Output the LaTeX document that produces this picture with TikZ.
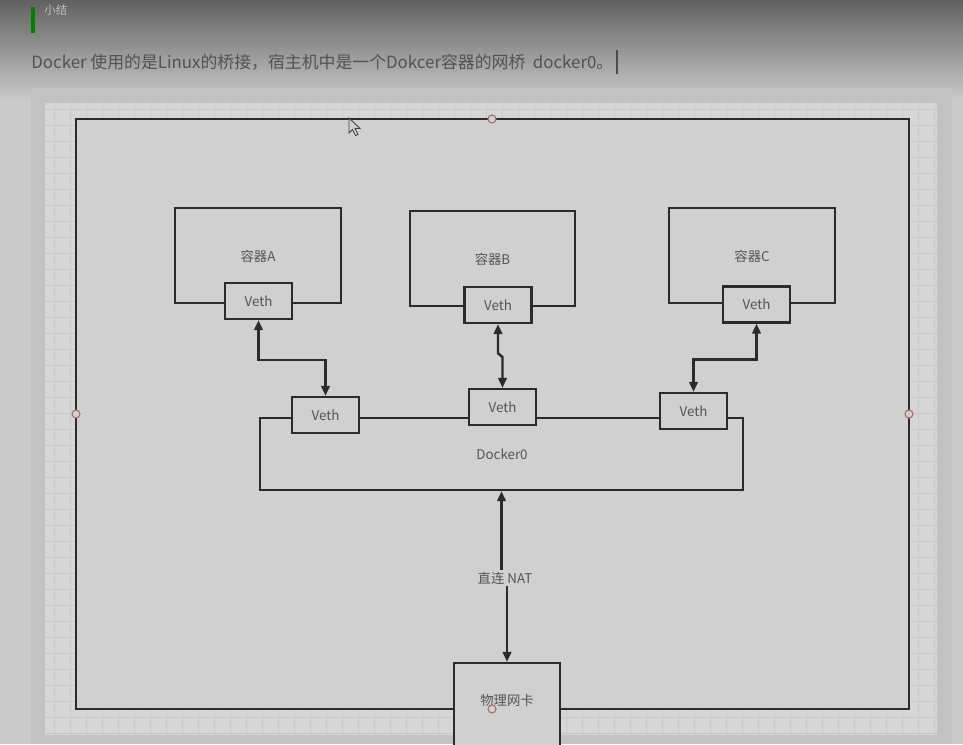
\documentclass[tikz,border=0pt]{standalone}
\usepackage{fontspec}
\setmainfont{Noto Sans CJK SC}
\usetikzlibrary{arrows.meta}

\definecolor{pagebg}{HTML}{CACACA}
\definecolor{bandbg}{HTML}{C2C2C2}
\definecolor{gridbg}{HTML}{D6D6D6}
\definecolor{gridln}{HTML}{C9C9C9}
\definecolor{canvas}{HTML}{D0D0D0}
\definecolor{ink}{HTML}{2B2B2B}
\definecolor{txt}{HTML}{555555}
\definecolor{handle}{HTML}{A86A6A}

\tikzset{
  >={Triangle[length=0.2cm,width=0.17cm]},
  box/.style={draw=ink, line width=1.3pt, fill=canvas, inner sep=0pt, text=txt, font=\fontsize{7.6}{9}\selectfont},
  vethbox/.style={box, minimum width=1.34cm, minimum height=0.72cm},
  ctbox/.style={box, minimum width=3.32cm, minimum height=1.9cm},
  lbl/.style={text=txt, font=\fontsize{7.6}{9}\selectfont, inner sep=1pt},
  link/.style={draw=ink, line width=1.4pt},
  hdl/.style={draw=handle, fill=canvas, line width=0.6pt},
}

\begin{document}
\begin{tikzpicture}[x=0.02cm, y=-0.02cm]

\useasboundingbox (0,0) rectangle (963,744);
\fill[pagebg] (0,0) rectangle (963,744);
\shade[top color=black!62, bottom color=pagebg] (0,0) rectangle (963,100);

% header
\fill[green!50!black] (31,7) rectangle (34.5,33);
\node[anchor=west, text=black!25, font=\fontsize{6.5}{8}\selectfont, inner sep=0pt] (head) at (44,10) {小结};
\node[anchor=west, text=black!68, font=\fontsize{9.6}{11}\selectfont, inner sep=0pt] (title) at (31,62)
  {Docker 使用的是Linux的桥接，宿主机中是一个Dokcer容器的网桥\ \ docker0。};
\draw[black!70, line width=0.6pt] (617,50) -- (617,74);

% canvas with grid
\fill[bandbg] (31,88) rectangle (952,744);
\fill[gridbg] (45,103) rectangle (937,735);
\begin{scope}
\clip (45,103) rectangle (937,735);
\foreach \x in {54,70,...,937} {
	\draw[gridln, line width=0.5pt] (\x,103) -- (\x,735);
}
\foreach \y in {109,125,...,735} {
	\draw[gridln, line width=0.5pt] (45,\y) -- (937,\y);
}
\end{scope}

% host
\draw[ink, line width=1.3pt, fill=canvas] (76,119) rectangle (909,709);

% containers
\node[ctbox] (ctA) at (258,255.5) {};
\node[lbl] at (258,256) {容器A};
\node[vethbox] (vA) at (258.5,301) {Veth};

\node[ctbox, minimum width=3.3cm] (ctB) at (492.5,258.5) {};
\node[lbl] at (492.5,259) {容器B};
\node[vethbox] (vB) at (498,305) {Veth};

\node[ctbox] (ctC) at (752,255.5) {};
\node[lbl] at (752,256) {容器C};
\node[vethbox] (vC) at (756.5,304.5) {Veth};

% bridge
\node[box, minimum width=9.66cm, minimum height=1.44cm] (dk) at (501.5,454) {};
\node[lbl] at (502,454) {Docker0};
\node[vethbox] (v1) at (325.5,415) {Veth};
\node[vethbox] (v2) at (502.5,407) {Veth};
\node[vethbox] (v3) at (693.5,411) {Veth};

\draw[link, <->] (vA.south) -- ++(0,40) -| (v1.north);
\draw[link, <->] (vB.south) -- ++(0,29) -- ++(4.5,4) -- (v2.north);
\draw[link, <->] (vC.south) -- ++(0,36) -| (v3.north);

% NIC
\node[box, minimum width=2.12cm, minimum height=1.8cm] (nic) at (507,708) {};
\node[lbl] at (507,700) {物理网卡};
\node[lbl] (nat) at (505,578) {直连 NAT};
\draw[link, ->] (nat.north -| dk.south) -- (dk.south);
\draw[link, ->] (nat.south -| nic.north) -- (nic.north);

% handles
\foreach \hx/\hy in {492/119, 76/414, 909/414, 492/709} {
	\draw[hdl] (\hx,\hy) circle (4);
}

% cursor
\draw[black!75, fill=canvas, line width=0.5pt] (349,118) -- (349,133) -- (352.5,129.5) -- (355.5,135.5) -- (358,134.5) -- (355,128.5) -- (360,128.5) -- cycle;

\end{tikzpicture}
\end{document}
